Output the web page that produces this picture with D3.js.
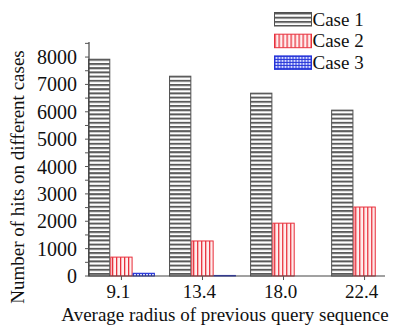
<!DOCTYPE html>
<html>
<head>
<meta charset="utf-8">
<script src="https://cdn.jsdelivr.net/npm/d3@7"></script>
<style>
  body { margin: 0; background: #fff; }
  svg text { font-family: "Liberation Serif", "Times New Roman", serif; fill: #111; }
  .y-tick-label { font-size: 20px; }
  .x-tick-label { font-size: 19px; }
  .axis-label { font-size: 19px; }
  .legend-label { font-size: 19px; }
</style>
</head>
<body>
<div id="chart"></div>
<script>
// categories and series
const RADII = ["9.1", "13.4", "18.0", "22.4"];
const SERIES = ["Case 1", "Case 2", "Case 3"];
const CASE1 = [7920, 7300, 6680, 6060];
const CASE2 = [690, 1280, 1930, 2520];
const CASE3 = [100, 20, 0, 0];
const Y_TICKS = [0, 1000, 2000, 3000, 4000, 5000, 6000, 7000, 8000];

const outerWidth = 415;
const outerHeight = 329;

// plot box
const plotLeft = 89, plotRight = 385, plotTop = 42, plotBottom = 276;

const svg = d3.select("#chart")
  .append("svg")
  .attr("width", outerWidth)
  .attr("height", outerHeight);

// patterns
const defs = svg.append("defs");

const p1 = defs.append("pattern")
  .attr("id", "pat-case1")
  .attr("patternUnits", "userSpaceOnUse")
  .attr("width", 6).attr("height", 4.2);
p1.append("rect").attr("width", 6).attr("height", 4.2).attr("fill", "#ffffff");
p1.append("rect").attr("y", 0).attr("width", 6).attr("height", 2).attr("fill", "#5a5a5a");

const p2 = defs.append("pattern")
  .attr("id", "pat-case2")
  .attr("patternUnits", "userSpaceOnUse")
  .attr("width", 4).attr("height", 6);
p2.append("rect").attr("width", 4).attr("height", 6).attr("fill", "#fff0f0");
p2.append("rect").attr("x", 0).attr("width", 1.3).attr("height", 6).attr("fill", "#e8303c");

const p3 = defs.append("pattern")
  .attr("id", "pat-case3")
  .attr("patternUnits", "userSpaceOnUse")
  .attr("width", 3).attr("height", 3);
p3.append("rect").attr("width", 3).attr("height", 3).attr("fill", "#d8dcff");
p3.append("rect").attr("width", 3).attr("height", 1).attr("fill", "#2433d8");
p3.append("rect").attr("width", 1).attr("height", 3).attr("fill", "#2433d8");

const fills = ["url(#pat-case1)", "url(#pat-case2)", "url(#pat-case3)"];
const strokes = ["#505050", "#e8303c", "#2433d8"];

// scales
const x0 = d3.scaleBand().domain(RADII).range([plotLeft - 1, plotRight + 13]).paddingInner(0.175).paddingOuter(0);
const x1 = d3.scaleBand().domain(SERIES).range([0, x0.bandwidth()]);
const y = d3.scaleLinear().domain([0, 8550]).range([plotBottom, plotTop]);

const rows = RADII.map((r, i) => ({
  radius: r,
  values: [CASE1[i], CASE2[i], CASE3[i]],
}));

// bars
const groups = svg.append("g")
  .selectAll("g")
  .data(rows)
  .join("g")
  .attr("transform", (d) => `translate(${x0(d.radius)},0)`);

groups.selectAll("rect")
  .data((d) => d.values.map((v, k) => ({ series: SERIES[k], k, value: v })))
  .join("rect")
  .attr("x", (d) => x1(d.series) + 0.5)
  .attr("y", (d) => y(d.value))
  .attr("width", x1.bandwidth() - 1)
  .attr("height", (d) => plotBottom - y(d.value))
  .attr("fill", (d) => fills[d.k])
  .attr("stroke", (d) => (d.value > 0 ? strokes[d.k] : "none"))
  .attr("stroke-width", 1);

// y axis
const yAxis = svg.append("g").attr("transform", `translate(${plotLeft},0)`);
yAxis.append("line")
  .attr("x1", 0).attr("x2", 0).attr("y1", plotTop).attr("y2", plotBottom)
  .attr("stroke", "#444").attr("stroke-width", 1.2);
yAxis.selectAll(".minor")
  .data(d3.range(0, 8501, 500))
  .join("line")
  .attr("x1", -4).attr("x2", 0)
  .attr("y1", (d) => y(d)).attr("y2", (d) => y(d))
  .attr("stroke", "#555").attr("stroke-width", 1);
yAxis.selectAll(".y-tick-label")
  .data(Y_TICKS)
  .join("text")
  .attr("class", "y-tick-label")
  .attr("x", -12)
  .attr("y", (d) => y(d))
  .attr("dy", "0.35em")
  .attr("text-anchor", "end")
  .text((d) => d);

// x axis
const xAxis = svg.append("g").attr("transform", `translate(0,${plotBottom})`);
xAxis.append("line")
  .attr("x1", plotLeft).attr("x2", plotRight)
  .attr("stroke", "#444").attr("stroke-width", 1.2);
xAxis.selectAll(".xt")
  .data(RADII)
  .join("line")
  .attr("x1", (d) => x0(d) + x0.bandwidth() / 2)
  .attr("x2", (d) => x0(d) + x0.bandwidth() / 2)
  .attr("y1", 0).attr("y2", 4)
  .attr("stroke", "#555");
xAxis.selectAll(".x-tick-label")
  .data(RADII)
  .join("text")
  .attr("class", "x-tick-label")
  .attr("x", (d) => x0(d) + x0.bandwidth() / 2 - 3)
  .attr("y", 22)
  .attr("text-anchor", "middle")
  .text((d) => d);

// axis labels
svg.append("text")
  .attr("class", "axis-label")
  .attr("x", 225)
  .attr("y", 321)
  .attr("text-anchor", "middle")
  .text("Average radius of previous query sequence");

svg.append("text")
  .attr("class", "axis-label")
  .attr("transform", "translate(24,177) rotate(-90)")
  .attr("text-anchor", "middle")
  .text("Number of hits on different cases");

// legend
const legend = svg.append("g").attr("transform", "translate(274.5,12.5)");
const items = legend.selectAll("g")
  .data(SERIES)
  .join("g")
  .attr("transform", (d, i) => `translate(0,${i * 21.7})`);
items.append("rect")
  .attr("width", 37).attr("height", 13.5)
  .attr("fill", (d, i) => fills[i])
  .attr("stroke", (d, i) => strokes[i]);
items.append("text")
  .attr("class", "legend-label")
  .attr("x", 38)
  .attr("y", 13)
  .text((d) => d);
</script>
</body>
</html>
